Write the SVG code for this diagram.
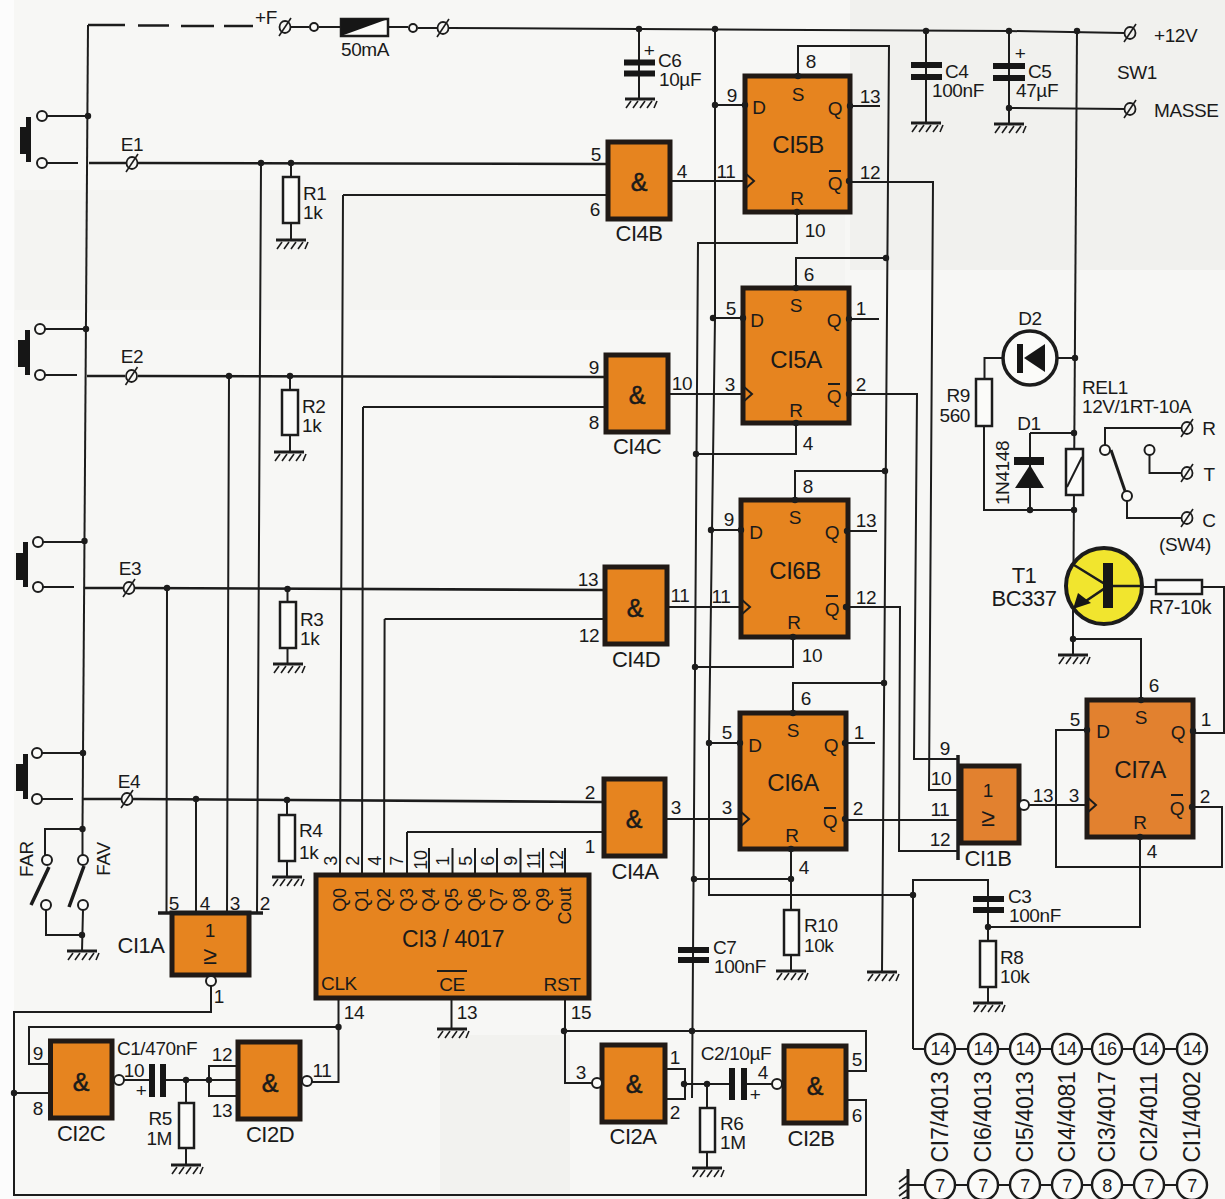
<svg xmlns="http://www.w3.org/2000/svg" width="1225" height="1199" viewBox="0 0 1225 1199">
<style>
text{font-family:"Liberation Sans",Arial,sans-serif;fill:#1a1a1a;font-size:19px;text-anchor:middle;dominant-baseline:central}
.l{text-anchor:start}.r{text-anchor:end}
.n{font-size:19px;letter-spacing:-.4px}
.g{font-size:22px;letter-spacing:-.5px}
.big{font-size:24px;letter-spacing:-.5px}
.rot{font-size:23px;letter-spacing:-.3px}
.amp{font-size:25px;stroke:#1a1a1a;stroke-width:.5px}
.pin{font-size:19px;letter-spacing:-.3px}
.sm{font-size:18px;letter-spacing:-.3px}
.c{font-size:18px;letter-spacing:-.6px}
.ge{font-size:25px}
.w{fill:none;stroke:#1c1c1c;stroke-width:2}
.w2{fill:none;stroke:#1c1c1c;stroke-width:2.6}
.box{fill:#e6841f;stroke:#211a16;stroke-width:5}
.box2{fill:#e2812f;stroke:#211a16;stroke-width:5}
.res{fill:#fbfbf9;stroke:#1c1c1c;stroke-width:2.5}
.bub{fill:#fbfbf9;stroke:#1c1c1c;stroke-width:2}
.blk{fill:#161616;stroke:none}
.dot{fill:#1c1c1c;stroke:none}
.cc{fill:#fbfbf9;stroke:#1c1c1c;stroke-width:2.4}
</style>
<defs>
<g id="gnd"><path d="M-15 0H15" stroke="#1c1c1c" stroke-width="3" fill="none"/><path d="M-9 2L-14 9M-2 2L-7 9M5 2L0 9M12 2L7 9M17 2L14 9" stroke="#1c1c1c" stroke-width="1.6" fill="none"/></g>
<g id="term"><ellipse rx="5.5" ry="6" fill="none" stroke="#1c1c1c" stroke-width="1.8"/><path d="M-6 9L6 -9" stroke="#1c1c1c" stroke-width="1.6"/></g>
<circle id="j" r="3.2" fill="#1c1c1c"/>
</defs>
<rect width="1225" height="1199" fill="#f7f7f5"/>
<rect x="0" y="0" width="14" height="1199" fill="#fcfcfc"/>
<rect x="850" y="0" width="375" height="270" fill="#f1f1ee"/>
<rect x="15" y="190" width="830" height="120" fill="#f4f4f2"/>
<rect x="440" y="1035" width="130" height="164" fill="#f2f2ef"/>

<g id="connectors">
<path class="w2" d="M88 25H125M138 25.500H169M181 26H214M224 26H253"/>
<path class="w" d="M88 25L82.500 829"/>
<path class="w" d="M291 27H309M319 27H341M388 27H408M418 28H437M449 28L639 29L1009 31L1124 33"/>
<path class="w" d="M1009 108L1124 109"/>
<path class="w" d="M639 29V99M926 31V123M1009 31V124"/>
<path class="w" d="M715 29V318L709 743V895H913V1049M913 895V880H988V941"/>
<path class="w" d="M988 880V987M988 927H1140V837"/>
<path class="w" d="M797 212V243H698L692 1098M796 423V454H696M793 637V667H695M791 849V955M791 879H694"/>
<path class="w" d="M798 76V46H889L882 972M796 288V258H886M795 500V471H885M793 713V683H884"/>
<path class="w" d="M715 105H745M713 318H743M711 530H741M709 743H740"/>
<path class="w" d="M850 106H880M849 319H879M847 531H877M845 743H875"/>
<path class="w" d="M850 182L933 182L929 790H958M849 394H917L914 759H958M846 607H900L899 851H958M845 820H958"/>
<path class="w" d="M670 181H745M668 394H743M667 607H741M665 819H740"/>
<path class="w2" d="M89 163H126M138 163L608 164M87 376H125M138 376L606 377M85 588H123M135 588L605 590M83 799H121M133 799L603 802"/>
<path class="w" d="M47 116H88M45 329H86M43 542H84.500M42 753H83"/>
<path class="w" d="M47 163H78M45 375H77M43 587H74M42 799H73"/>
<path class="w" d="M343 195H608M363 407H606M384.600 619H605M407 832H604"/>
<path class="w" d="M343 195L340 875M363 407L362 875M384.600 619L384 875M407 832V875"/>
<path class="w" d="M429 848V875M452.500 848V875M475 848V875M497 848V875M520.500 848V875M543 848V875M565 848V875"/>
<path class="w" d="M261 163L257 913M229 376L227 913M167 588L166.500 913M196 799V913"/>
<path class="w" d="M291 163V240M290 376V452M287.500 588V664M287 800V877"/>
<path class="w" d="M45 855V829H82.500V855M46 910V935H82M83 910L82 951"/>
<path class="w" d="M211 986V1012H14V1195H866V1100H848M14 1093H50M338.500 998V1082H312M338.500 1027H29V1064H50"/>
<path class="w" d="M565 998V1083H592M564 1031H866V1071H848"/>
<path class="w" d="M451.500 998V1029"/>
<path class="w" d="M124 1080H152M163 1080H239M186 1080V1165M209 1080V1066H239M209 1080V1096H239"/>
<path class="w" d="M665 1069H685V1099H665M685 1084H733M743 1084H772M707 1084V1168"/>
<path class="w" d="M1024 805H1087M1193 807H1222V867H1056V730H1087M1193 733H1224V587H1202M1156 587H1108"/>
<path class="w" d="M1141 700V639H1073M1073 608V655"/>
<path class="w" d="M1077 31L1073.500 565"/>
<path class="w" d="M1057 358H1075M1003 358H984.500V379M984 426V510H1074M1030 433H1074M1030 433V510"/>
<path class="w" d="M1105 445V428H1181M1149.500 455V473H1181M1127 501V518H1181"/>
<path class="w" d="M913 1049H1192"/>
<path class="w" d="M908 1185H1192"/>
</g>

<g id="junctions">
<use href="#j" x="639" y="29"/><use href="#j" x="715" y="29"/><use href="#j" x="926" y="31"/><use href="#j" x="1009" y="31"/><use href="#j" x="1077" y="31"/><use href="#j" x="1009" y="108"/>
<use href="#j" x="88" y="116"/><use href="#j" x="86" y="329"/><use href="#j" x="84.500" y="541"/><use href="#j" x="83" y="753"/><use href="#j" x="82.500" y="829"/><use href="#j" x="82" y="935"/>
<use href="#j" x="261" y="163"/><use href="#j" x="291" y="163"/><use href="#j" x="229" y="376"/><use href="#j" x="290" y="376"/><use href="#j" x="167" y="588"/><use href="#j" x="287.500" y="589"/><use href="#j" x="196" y="799"/><use href="#j" x="287" y="800"/>
<use href="#j" x="715" y="105"/><use href="#j" x="713" y="318"/><use href="#j" x="711" y="530"/><use href="#j" x="709" y="743"/>
<use href="#j" x="886" y="258"/><use href="#j" x="885" y="471"/><use href="#j" x="884" y="683"/>
<use href="#j" x="696" y="454"/><use href="#j" x="695" y="667"/><use href="#j" x="694" y="879"/><use href="#j" x="791" y="879"/>
<use href="#j" x="913" y="895"/><use href="#j" x="988" y="927"/>
<use href="#j" x="14" y="1093"/><use href="#j" x="338.500" y="1027"/><use href="#j" x="564" y="1031"/><use href="#j" x="692" y="1031"/>
<use href="#j" x="186" y="1080"/><use href="#j" x="209" y="1080"/><use href="#j" x="684" y="1084"/><use href="#j" x="707" y="1084"/>
<use href="#j" x="1075" y="358"/><use href="#j" x="1074" y="433"/><use href="#j" x="1074" y="510"/><use href="#j" x="1030" y="510"/><use href="#j" x="1073" y="639"/>
</g>

<g id="supply-in">
<text x="266" y="17" class="n">+F</text>
<use href="#term" x="285" y="27"/><circle class="bub" cx="314" cy="27" r="4"/>
<rect x="341" y="19" width="47" height="17" class="res"/><path class="blk" d="M341 19H388L341 36Z"/>
<text x="365" y="49" class="n">50mA</text>
<circle class="bub" cx="413" cy="28" r="4"/><use href="#term" x="443" y="28"/>
<use href="#term" x="1130" y="33"/><text x="1154" y="35" class="l n">+12V</text>
<use href="#term" x="1130" y="109"/><text x="1154" y="110" class="l n">MASSE</text>
<text x="1117" y="72" class="l n">SW1</text>
</g>

<g id="C6"><rect x="624" y="59.500" width="31" height="6" class="blk"/><rect x="624" y="70.500" width="31" height="6" class="blk"/><use href="#gnd" x="640" y="99"/><text x="649" y="50" class="n">+</text><text x="658" y="60" class="l n">C6</text><text x="659" y="79" class="l n">10µF</text></g>
<g id="C4"><rect x="911" y="62" width="31" height="6" class="blk"/><rect x="911" y="74" width="31" height="6" class="blk"/><use href="#gnd" x="926" y="123"/><text x="945" y="71" class="l n">C4</text><text x="932" y="90" class="l n">100nF</text></g>
<g id="C5"><rect x="993" y="63" width="32" height="6" class="blk"/><rect x="993" y="75" width="32" height="6" class="blk"/><use href="#gnd" x="1009" y="124"/><text x="1020" y="53" class="n">+</text><text x="1028" y="71" class="l n">C5</text><text x="1016" y="90" class="l n">47µF</text></g>

<g id="pushbuttons">
<g id="E1"><rect x="20" y="127" width="7" height="27" class="blk"/><rect x="26" y="117" width="5" height="45" class="blk"/><circle class="bub" cx="42" cy="116" r="5"/><circle class="bub" cx="42" cy="163" r="5"/><use href="#term" x="132" y="163"/><text x="132" y="144" class="n">E1</text></g>
<g id="E2"><rect x="18" y="340" width="7" height="27" class="blk"/><rect x="25" y="330" width="5" height="45" class="blk"/><circle class="bub" cx="40" cy="329" r="5"/><circle class="bub" cx="40" cy="375" r="5"/><use href="#term" x="131.500" y="376"/><text x="132" y="356" class="n">E2</text></g>
<g id="E3"><rect x="16" y="553" width="7" height="27" class="blk"/><rect x="23" y="542" width="5" height="45" class="blk"/><circle class="bub" cx="38" cy="542" r="5"/><circle class="bub" cx="38" cy="587" r="5"/><use href="#term" x="129" y="588"/><text x="130" y="568" class="n">E3</text></g>
<g id="E4"><rect x="16" y="764" width="7" height="27" class="blk"/><rect x="23" y="754" width="5" height="45" class="blk"/><circle class="bub" cx="37" cy="753" r="5"/><circle class="bub" cx="37" cy="799" r="5"/><use href="#term" x="127" y="799"/><text x="129" y="781" class="n">E4</text></g>
</g>

<g id="FAR-FAV">
<circle class="bub" cx="47" cy="860" r="5"/><circle class="bub" cx="46" cy="905" r="5"/><circle class="bub" cx="83" cy="860" r="5"/><circle class="bub" cx="83" cy="905" r="5"/>
<path d="M49 867L31 905M84 866L69 907" stroke="#1c1c1c" stroke-width="3.500" fill="none"/>
<text transform="translate(26 859) rotate(-90)" class="n">FAR</text><text transform="translate(103 859) rotate(-90)" class="n">FAV</text>
<use href="#gnd" x="82" y="951"/>
</g>

<g id="R1"><rect x="283" y="177" width="16" height="46" class="res"/><use href="#gnd" x="291" y="240"/><text x="303" y="193" class="l n">R1</text><text x="303" y="212" class="l n">1k</text></g>
<g id="R2"><rect x="282" y="390" width="16" height="45" class="res"/><use href="#gnd" x="289" y="452"/><text x="302" y="406" class="l n">R2</text><text x="302" y="425" class="l n">1k</text></g>
<g id="R3"><rect x="280" y="602" width="16" height="46" class="res"/><use href="#gnd" x="288" y="664"/><text x="300" y="619" class="l n">R3</text><text x="300" y="638" class="l n">1k</text></g>
<g id="R4"><rect x="279" y="815" width="16" height="46" class="res"/><use href="#gnd" x="287" y="877"/><text x="299" y="830" class="l n">R4</text><text x="299" y="852" class="l n">1k</text></g>

<g id="CI5B"><rect x="745" y="76" width="105" height="136" class="box"/><path d="M745 173L754 181L745 189" class="w"/><circle class="dot" cx="798" cy="76" r="3.200"/><circle class="dot" cx="745" cy="105" r="3.200"/><circle class="dot" cx="850" cy="106" r="3.200"/><circle class="dot" cx="849" cy="181" r="3.200"/><circle class="dot" cx="797" cy="212" r="3.200"/>
<text x="798" y="94" class="pin">S</text><text x="759" y="107" class="pin">D</text><text x="835" y="108" class="pin">Q</text><text x="798" y="144" class="big">CI5B</text><text x="835" y="183" class="pin">Q</text><path d="M829 171H841" class="w"/><text x="797" y="198" class="pin">R</text>
<text x="811" y="61" class="pin">8</text><text x="732" y="95" class="pin">9</text><text x="870" y="96" class="pin">13</text><text x="726" y="171" class="pin">11</text><text x="682" y="171" class="pin">4</text><text x="870" y="172" class="pin">12</text><text x="815" y="230" class="pin">10</text></g>

<g id="CI5A"><rect x="743" y="288" width="106" height="135" class="box"/><path d="M743 386L752 394L743 402" class="w"/><circle class="dot" cx="796" cy="288" r="3.200"/><circle class="dot" cx="743" cy="318" r="3.200"/><circle class="dot" cx="849" cy="319" r="3.200"/><circle class="dot" cx="849" cy="394" r="3.200"/><circle class="dot" cx="796" cy="423" r="3.200"/>
<text x="796" y="305" class="pin">S</text><text x="757" y="320" class="pin">D</text><text x="834" y="320" class="pin">Q</text><text x="796" y="359" class="big">CI5A</text><text x="834" y="396" class="pin">Q</text><path d="M828 384H840" class="w"/><text x="796" y="410" class="pin">R</text>
<text x="809" y="274" class="pin">6</text><text x="731" y="308" class="pin">5</text><text x="861" y="308" class="pin">1</text><text x="730" y="384" class="pin">3</text><text x="682" y="383" class="pin">10</text><text x="861" y="384" class="pin">2</text><text x="808" y="443" class="pin">4</text></g>

<g id="CI6B"><rect x="741" y="500" width="107" height="137" class="box"/><path d="M741 599L750 607L741 615" class="w"/><circle class="dot" cx="795" cy="500" r="3.200"/><circle class="dot" cx="741" cy="530" r="3.200"/><circle class="dot" cx="847" cy="531" r="3.200"/><circle class="dot" cx="846" cy="607" r="3.200"/><circle class="dot" cx="793" cy="637" r="3.200"/>
<text x="795" y="517" class="pin">S</text><text x="756" y="532" class="pin">D</text><text x="832" y="532" class="pin">Q</text><text x="795" y="570" class="big">CI6B</text><text x="832" y="609" class="pin">Q</text><path d="M826 596H838" class="w"/><text x="794" y="622" class="pin">R</text>
<text x="808" y="486" class="pin">8</text><text x="729" y="519" class="pin">9</text><text x="866" y="520" class="pin">13</text><text x="721" y="596" class="pin">11</text><text x="680" y="595" class="pin">11</text><text x="866" y="597" class="pin">12</text><text x="812" y="655" class="pin">10</text></g>

<g id="CI6A"><rect x="740" y="713" width="106" height="136" class="box"/><path d="M740 811L749 819L740 827" class="w"/><circle class="dot" cx="793" cy="713" r="3.200"/><circle class="dot" cx="740" cy="743" r="3.200"/><circle class="dot" cx="845" cy="743" r="3.200"/><circle class="dot" cx="845" cy="819" r="3.200"/><circle class="dot" cx="791" cy="849" r="3.200"/>
<text x="793" y="730" class="pin">S</text><text x="755" y="745" class="pin">D</text><text x="831" y="745" class="pin">Q</text><text x="793" y="782" class="big">CI6A</text><text x="830" y="821" class="pin">Q</text><path d="M824 808H836" class="w"/><text x="792" y="835" class="pin">R</text>
<text x="806" y="698" class="pin">6</text><text x="727" y="732" class="pin">5</text><text x="859" y="732" class="pin">1</text><text x="727" y="807" class="pin">3</text><text x="676" y="807" class="pin">3</text><text x="858" y="808" class="pin">2</text><text x="804" y="867" class="pin">4</text></g>

<g id="CI7A"><rect x="1087" y="700" width="106" height="137" class="box2"/><path d="M1087 797L1096 805L1087 813" class="w"/><circle class="dot" cx="1141" cy="700" r="3.200"/><circle class="dot" cx="1087" cy="730" r="3.200"/><circle class="dot" cx="1193" cy="731" r="3.200"/><circle class="dot" cx="1192" cy="807" r="3.200"/><circle class="dot" cx="1140" cy="837" r="3.200"/>
<text x="1141" y="717" class="pin">S</text><text x="1103" y="731" class="pin">D</text><text x="1178" y="732" class="pin">Q</text><text x="1140" y="769" class="big">CI7A</text><text x="1177" y="808" class="pin">Q</text><path d="M1171 795H1183" class="w"/><text x="1140" y="822" class="pin">R</text>
<text x="1154" y="685" class="pin">6</text><text x="1075" y="719" class="pin">5</text><text x="1206" y="719" class="pin">1</text><text x="1074" y="795" class="pin">3</text><text x="1205" y="796" class="pin">2</text><text x="1152" y="851" class="pin">4</text></g>

<g id="CI4B"><rect x="608" y="142" width="62" height="77" class="box"/><text x="639" y="182" class="amp">&amp;</text><text x="639" y="233" class="g">CI4B</text><text x="596" y="154" class="pin">5</text><text x="595" y="209" class="pin">6</text></g>
<g id="CI4C"><rect x="606" y="355" width="62" height="77" class="box"/><text x="637" y="395" class="amp">&amp;</text><text x="637" y="446" class="g">CI4C</text><text x="594" y="367" class="pin">9</text><text x="594" y="422" class="pin">8</text></g>
<g id="CI4D"><rect x="605" y="567" width="62" height="77" class="box"/><text x="635" y="608" class="amp">&amp;</text><text x="636" y="659" class="g">CI4D</text><text x="588" y="579" class="pin">13</text><text x="589" y="635" class="pin">12</text></g>
<g id="CI4A"><rect x="604" y="779" width="61" height="77" class="box"/><text x="634" y="819" class="amp">&amp;</text><text x="635" y="871" class="g">CI4A</text><text x="590" y="792" class="pin">2</text><text x="590" y="846" class="pin">1</text></g>

<g id="CI1B"><rect x="961" y="766" width="58" height="77" class="box2"/><path d="M958 755V860" stroke="#1c1c1c" stroke-width="3.500" fill="none"/><circle class="bub" cx="1024" cy="805" r="5"/><text x="988" y="790" class="pin">1</text><text x="988" y="817" class="ge">≥</text><text x="988" y="858" class="g">CI1B</text><text x="1043" y="795" class="pin">13</text><text x="945" y="748" class="pin">9</text><text x="941" y="778" class="pin">10</text><text x="940" y="809" class="pin">11</text><text x="940" y="839" class="pin">12</text></g>

<g id="CI1A"><rect x="172" y="913" width="77" height="62" class="box"/><path d="M158 913H263" stroke="#1c1c1c" stroke-width="3.500" fill="none"/><circle class="bub" cx="211" cy="981" r="5"/><text x="210" y="930" class="pin">1</text><text x="210" y="955" class="ge">≥</text><text x="141" y="945" class="g">CI1A</text><text x="174" y="903" class="pin">5</text><text x="205" y="903" class="pin">4</text><text x="235" y="903" class="pin">3</text><text x="265" y="903" class="pin">2</text><text x="219" y="996" class="pin">1</text></g>

<g id="CI3"><rect x="316" y="875" width="273" height="123" class="box"/>
<g><text transform="translate(340 900) rotate(-90)" class="sm">Q0</text><text transform="translate(362 900) rotate(-90)" class="sm">Q1</text><text transform="translate(384 900) rotate(-90)" class="sm">Q2</text><text transform="translate(407 900) rotate(-90)" class="sm">Q3</text><text transform="translate(429 900) rotate(-90)" class="sm">Q4</text><text transform="translate(452 900) rotate(-90)" class="sm">Q5</text><text transform="translate(475 900) rotate(-90)" class="sm">Q6</text><text transform="translate(497 900) rotate(-90)" class="sm">Q7</text><text transform="translate(520 900) rotate(-90)" class="sm">Q8</text><text transform="translate(543 900) rotate(-90)" class="sm">Q9</text><text transform="translate(565 906) rotate(-90)" class="sm">Cout</text></g>
<g><text transform="translate(331 861) rotate(-90)" class="sm">3</text><text transform="translate(353 861) rotate(-90)" class="sm">2</text><text transform="translate(375 861) rotate(-90)" class="sm">4</text><text transform="translate(397 861) rotate(-90)" class="sm">7</text><text transform="translate(421 860) rotate(-90)" class="sm">10</text><text transform="translate(443 861) rotate(-90)" class="sm">1</text><text transform="translate(466 861) rotate(-90)" class="sm">5</text><text transform="translate(488 861) rotate(-90)" class="sm">6</text><text transform="translate(511 861) rotate(-90)" class="sm">9</text><text transform="translate(534 860) rotate(-90)" class="sm">11</text><text transform="translate(557 860) rotate(-90)" class="sm">12</text></g>
<text x="453" y="939" class="n" style="font-size:23px">CI3 / 4017</text><text x="339" y="983" class="n">CLK</text><text x="452" y="984" class="n">CE</text><path d="M437 971H467" class="w"/><text x="562" y="984" class="n">RST</text>
<text x="354" y="1012" class="pin">14</text><text x="467" y="1012" class="pin">13</text><text x="581" y="1012" class="pin">15</text><use href="#gnd" x="452" y="1029"/></g>

<g id="CI2C"><rect x="50.500" y="1041" width="61.500" height="77" class="box"/><text x="81" y="1082" class="amp">&amp;</text><circle class="bub" cx="119" cy="1080" r="5"/><text x="81" y="1133" class="g">CI2C</text><text x="38" y="1053" class="pin">9</text><text x="38" y="1108" class="pin">8</text><text x="134" y="1070" class="pin">10</text></g>
<g id="C1"><rect x="149" y="1064" width="6" height="33" class="blk"/><rect x="160" y="1064" width="6" height="33" class="blk"/><text x="141" y="1090" class="n">+</text><text x="157" y="1048" class="n">C1/470nF</text></g>
<g id="R5"><rect x="179" y="1103" width="15" height="45" class="res"/><use href="#gnd" x="186" y="1165"/><text x="172" y="1118" class="r n">R5</text><text x="172" y="1138" class="r n">1M</text></g>
<g id="CI2D"><rect x="238" y="1042" width="62" height="77" class="box"/><text x="270" y="1083" class="amp">&amp;</text><circle class="bub" cx="307" cy="1081" r="5"/><text x="270" y="1134" class="g">CI2D</text><text x="222" y="1054" class="pin">12</text><text x="222" y="1110" class="pin">13</text><text x="322" y="1070" class="pin">11</text></g>
<g id="CI2A"><rect x="602" y="1045" width="63" height="77" class="box"/><text x="634" y="1084" class="amp">&amp;</text><circle class="bub" cx="597" cy="1083" r="5"/><text x="633" y="1136" class="g">CI2A</text><text x="581" y="1072" class="pin">3</text><text x="675" y="1057" class="pin">1</text><text x="675" y="1112" class="pin">2</text></g>
<g id="C2"><rect x="729" y="1068" width="6" height="32" class="blk"/><rect x="741" y="1068" width="6" height="32" class="blk"/><text x="755" y="1094" class="n">+</text><text x="736" y="1053" class="n">C2/10µF</text><text x="763" y="1072" class="pin">4</text></g>
<g id="R6"><rect x="700" y="1108" width="15" height="44" class="res"/><use href="#gnd" x="707" y="1168"/><text x="720" y="1123" class="l n">R6</text><text x="720" y="1142" class="l n">1M</text></g>
<g id="CI2B"><rect x="784" y="1046" width="62" height="77" class="box"/><text x="815" y="1086" class="amp">&amp;</text><circle class="bub" cx="777" cy="1084" r="5"/><text x="811" y="1138" class="g">CI2B</text><text x="857" y="1059" class="pin">5</text><text x="857" y="1115" class="pin">6</text></g>

<g id="C7"><rect x="678" y="947" width="31" height="6" class="blk"/><rect x="678" y="957" width="31" height="6" class="blk"/><text x="713" y="947" class="l n">C7</text><text x="714" y="966" class="l n">100nF</text></g>
<g id="R10"><rect x="784" y="910" width="15" height="45" class="res"/><path class="w" d="M791 955V971"/><use href="#gnd" x="791" y="971"/><text x="804" y="925" class="l n">R10</text><text x="804" y="945" class="l n">10k</text></g>
<use id="gnd-s" href="#gnd" x="882" y="972"/>
<g id="C3"><rect x="973" y="896" width="31" height="6" class="blk"/><rect x="973" y="907" width="31" height="6" class="blk"/><text x="1008" y="896" class="l n">C3</text><text x="1009" y="915" class="l n">100nF</text></g>
<g id="R8"><rect x="980" y="941" width="16" height="46" class="res"/><path class="w" d="M988 987V1003"/><use href="#gnd" x="988" y="1003"/><text x="1000" y="957" class="l n">R8</text><text x="1000" y="976" class="l n">10k</text></g>

<g id="D2"><circle cx="1030" cy="358" r="27" fill="#fbfbf9" stroke="#1c1c1c" stroke-width="3.500"/><rect x="1017" y="344" width="6" height="29" class="blk"/><path class="blk" d="M1024 358L1045 344V372Z"/><text x="1030" y="318" class="n">D2</text></g>
<g id="R9"><rect x="976" y="379" width="16" height="47" class="res"/><text x="970" y="395" class="r n">R9</text><text x="970" y="415" class="r n">560</text></g>
<g id="D1"><rect x="1014" y="457" width="30" height="8" class="blk"/><path class="blk" d="M1030 465L1044 488H1015Z"/><text x="1029" y="423" class="n">D1</text><text transform="translate(1002 473) rotate(-90)" class="n">1N4148</text></g>
<g id="REL1"><rect x="1066" y="449" width="17" height="46" class="res"/><path class="w" d="M1067 487L1082 457"/><circle class="bub" cx="1105" cy="450" r="5"/><circle class="bub" cx="1149.500" cy="450" r="5"/><circle class="bub" cx="1127" cy="496" r="5"/><path d="M1111 450L1125 491" stroke="#1c1c1c" stroke-width="3" fill="none"/><use href="#term" x="1187" y="428"/><use href="#term" x="1187" y="473"/><use href="#term" x="1187" y="518"/><text x="1209" y="428" class="n">R</text><text x="1209" y="474" class="n">T</text><text x="1209" y="520" class="n">C</text><text x="1185" y="544" class="n">(SW4)</text><text x="1082" y="387" class="l n">REL1</text><text x="1082" y="406" class="l n">12V/1RT-10A</text></g>
<g id="T1"><circle cx="1104" cy="586" r="38" fill="#f1e52e" stroke="#1c1c1c" stroke-width="4"/><path class="w2" d="M1074 565L1108 586L1080 605M1108 586H1142"/><rect x="1103" y="563" width="10" height="45" class="blk"/><path class="blk" d="M1073 609L1078 593L1091 603Z"/><text x="1024" y="575" class="g">T1</text><text x="1024" y="598" class="g">BC337</text></g>
<g id="gnd-t"><use href="#gnd" x="1073" y="655"/></g>
<g id="R7"><rect x="1156" y="580" width="46" height="14" class="res"/><text x="1180" y="607" class="n" style="font-size:20px">R7-10k</text></g>

<g id="power-table">
<g id="p1"><circle class="cc" cx="940" cy="1049" r="15"/><text x="940" y="1049" class="c">14</text><circle class="cc" cx="940" cy="1185" r="15"/><text x="940" y="1186" class="c">7</text><text transform="translate(940 1117) rotate(-90)" class="rot">CI7/4013</text></g>
<g id="p2"><circle class="cc" cx="983" cy="1049" r="15"/><text x="983" y="1049" class="c">14</text><circle class="cc" cx="983" cy="1185" r="15"/><text x="983" y="1186" class="c">7</text><text transform="translate(983 1117) rotate(-90)" class="rot">CI6/4013</text></g>
<g id="p3"><circle class="cc" cx="1025" cy="1049" r="15"/><text x="1025" y="1049" class="c">14</text><circle class="cc" cx="1025" cy="1185" r="15"/><text x="1025" y="1186" class="c">7</text><text transform="translate(1025 1117) rotate(-90)" class="rot">CI5/4013</text></g>
<g id="p4"><circle class="cc" cx="1067" cy="1049" r="15"/><text x="1067" y="1049" class="c">14</text><circle class="cc" cx="1067" cy="1185" r="15"/><text x="1067" y="1186" class="c">7</text><text transform="translate(1067 1117) rotate(-90)" class="rot">CI4/4081</text></g>
<g id="p5"><circle class="cc" cx="1107" cy="1049" r="15"/><text x="1107" y="1049" class="c">16</text><circle class="cc" cx="1107" cy="1185" r="15"/><text x="1107" y="1186" class="c">8</text><text transform="translate(1107 1117) rotate(-90)" class="rot">CI3/4017</text></g>
<g id="p6"><circle class="cc" cx="1149" cy="1049" r="15"/><text x="1149" y="1049" class="c">14</text><circle class="cc" cx="1149" cy="1185" r="15"/><text x="1149" y="1186" class="c">7</text><text transform="translate(1149 1117) rotate(-90)" class="rot">CI2/4011</text></g>
<g id="p7"><circle class="cc" cx="1192" cy="1049" r="15"/><text x="1192" y="1049" class="c">14</text><circle class="cc" cx="1192" cy="1185" r="15"/><text x="1192" y="1186" class="c">7</text><text transform="translate(1192 1117) rotate(-90)" class="rot">CI1/4002</text></g>
<g id="gnd-p"><path d="M908 1169V1199" stroke="#1c1c1c" stroke-width="3" fill="none"/><path d="M907 1176L899 1182M907 1183L899 1189M907 1190L899 1196M907 1197L902 1199" stroke="#1c1c1c" stroke-width="1.600" fill="none"/></g>
</g>
</svg>
